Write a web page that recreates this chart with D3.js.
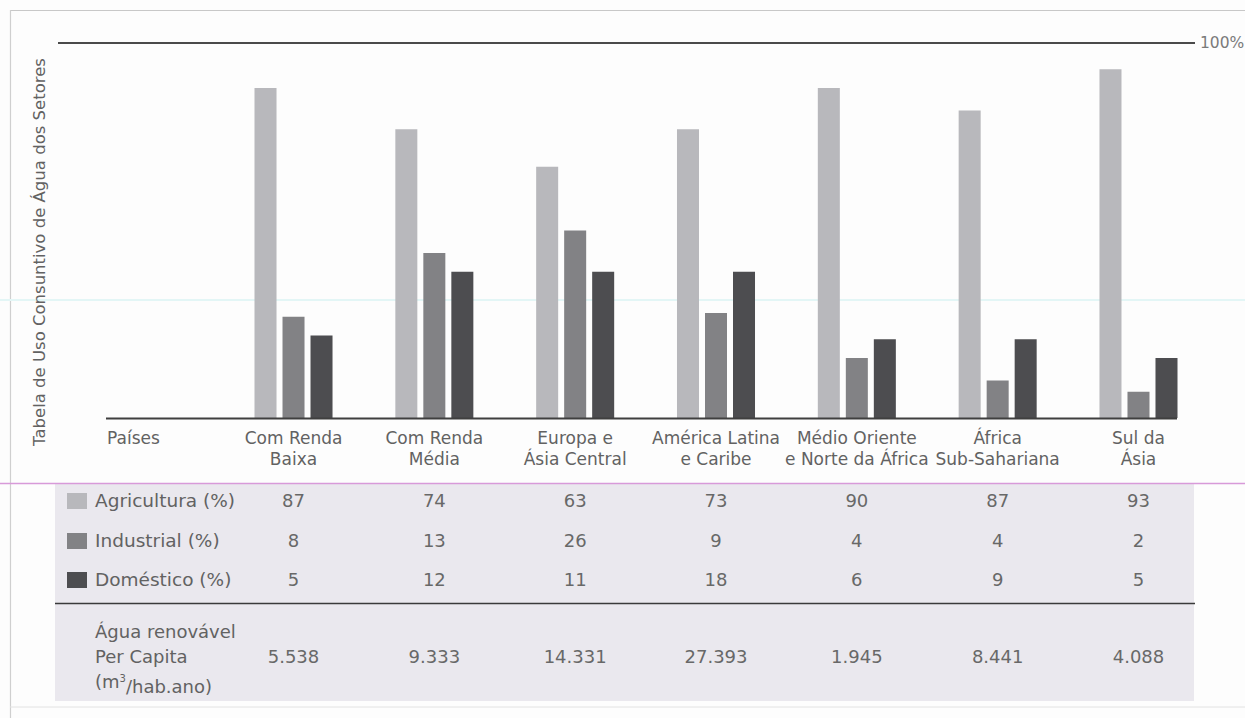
<!DOCTYPE html>
<html>
<head>
<meta charset="utf-8">
<script src="https://cdn.jsdelivr.net/npm/d3@7"></script>
<style>
  body { margin: 0; background: #fff; }
  svg { display: block; font-family: "DejaVu Sans", Arial, sans-serif; }
</style>
</head>
<body>
<div id="vis"><svg></svg></div>
<script>
// categories (two-line labels)
const regions = [
  ["Com Renda", "Baixa"],
  ["Com Renda", "Média"],
  ["Europa e", "Ásia Central"],
  ["América Latina", "e Caribe"],
  ["Médio Oriente", "e Norte da África"],
  ["África", "Sub-Sahariana"],
  ["Sul da", "Ásia"]
];
const sectors = ["Agricultura (%)", "Industrial (%)", "Doméstico (%)"];

// bar heights as drawn in the figure (% of the 100% line)
const barAgri = [88, 77, 67, 77, 88, 82, 93];
const barInd  = [27, 44, 50, 28, 16, 10, 7];
const barDom  = [22, 39, 39, 39, 21, 21, 16];

// table values
const agri = [87, 74, 63, 73, 90, 87, 93];
const ind  = [8, 13, 26, 9, 4, 4, 2];
const dom  = [5, 12, 11, 18, 6, 9, 5];
const waterPerCapita = ["5.538", "9.333", "14.331", "27.393", "1.945", "8.441", "4.088"];

const colors = ["#b8b8bc", "#828285", "#4d4d50"];
const textColor = "#626262";

const W = 1245, H = 718;
const svg = d3.select("#vis").select("svg")
  .attr("width", W)
  .attr("height", H);

// frame + table background
svg.append("rect").attr("x", 0).attr("y", 0).attr("width", W).attr("height", H).attr("fill", "#fdfdfd");
svg.append("line").attr("x1", 10).attr("x2", W).attr("y1", 10.5).attr("y2", 10.5)
  .attr("stroke", "#c8c8c8").attr("stroke-width", 1.2);
svg.append("line").attr("x1", 10.5).attr("x2", 10.5).attr("y1", 10).attr("y2", H)
  .attr("stroke", "#cfcfcf").attr("stroke-width", 1.2);
svg.append("line").attr("x1", 10).attr("x2", W).attr("y1", 707).attr("y2", 707)
  .attr("stroke", "#e2e2e2").attr("stroke-width", 1);
svg.append("rect").attr("x", 55).attr("y", 483).attr("width", 1139).attr("height", 218)
  .attr("fill", "#eae8ee");
// faint scan stripes
svg.append("line").attr("x1", 0).attr("x2", W).attr("y1", 300).attr("y2", 300)
  .attr("stroke", "#e3f6f6").attr("stroke-width", 2);
svg.append("line").attr("x1", 0).attr("x2", W).attr("y1", 483.5).attr("y2", 483.5)
  .attr("stroke", "#d89ad9").attr("stroke-width", 1.6);

// scales
const y = d3.scaleLinear().domain([0, 100]).range([418, 43]);
const x0 = d3.scaleBand()
  .domain(d3.range(regions.length))
  .range([254.5, 1177.5])
  .paddingInner(0.446)
  .paddingOuter(0);
const x1 = d3.scaleBand()
  .domain(d3.range(sectors.length))
  .range([0, x0.bandwidth()])
  .paddingInner(0.214);
const cx = i => x0(i) + x0.bandwidth() / 2;

// 100% line
svg.append("line").attr("x1", 58).attr("x2", 1195).attr("y1", y(100)).attr("y2", y(100))
  .attr("stroke", "#4a4a4a").attr("stroke-width", 2);
svg.append("text").attr("x", 1200).attr("y", y(100)).attr("dy", "0.35em")
  .attr("font-size", 15.5).attr("fill", "#7a7a7a").text("100%");

// bars
const barSeries = [barAgri, barInd, barDom];
const groups = svg.append("g").selectAll("g")
  .data(regions)
  .join("g")
  .attr("transform", (d, i) => `translate(${x0(i)},0)`);
groups.selectAll("rect")
  .data((d, i) => barSeries.map((s, k) => ({ k, v: s[i] })))
  .join("rect")
  .attr("x", d => x1(d.k))
  .attr("width", x1.bandwidth())
  .attr("y", d => y(d.v))
  .attr("height", d => y(0) - y(d.v))
  .attr("fill", d => colors[d.k]);

// baseline
svg.append("line").attr("x1", 106).attr("x2", 1177).attr("y1", 418.5).attr("y2", 418.5)
  .attr("stroke", "#3f3f3f").attr("stroke-width", 2.2);

// category labels
svg.append("text").attr("x", 107).attr("y", 438).attr("dy", "0.35em")
  .attr("font-size", 17).attr("fill", textColor).text("Países");
const catLabels = svg.append("g").selectAll("text")
  .data(regions)
  .join("text")
  .attr("text-anchor", "middle")
  .attr("font-size", 17)
  .attr("fill", textColor);
catLabels.append("tspan").attr("x", (d, i) => cx(i))
  .attr("y", 438).attr("dy", "0.35em").text(d => d[0]);
catLabels.append("tspan").attr("x", (d, i) => cx(i))
  .attr("y", 459).attr("dy", "0.35em").text(d => d[1]);

// y title
svg.append("text")
  .attr("transform", "translate(39,252) rotate(-90)")
  .attr("text-anchor", "middle").attr("dy", "0.35em")
  .attr("font-size", 16.5).attr("fill", textColor)
  .text("Tabela de Uso Consuntivo de Água dos Setores");

// table rows
const rowY = [501, 541, 580];
const tableVals = [agri, ind, dom];
sectors.forEach((s, k) => {
  svg.append("rect").attr("x", 67).attr("y", rowY[k] - 8).attr("width", 20).attr("height", 16)
    .attr("fill", colors[k]);
  svg.append("text").attr("x", 95).attr("y", rowY[k]).attr("dy", "0.35em")
    .attr("font-size", 18.5).attr("fill", textColor).text(s);
  svg.append("g").selectAll("text")
    .data(tableVals[k])
    .join("text")
    .attr("x", (d, i) => cx(i))
    .attr("y", rowY[k]).attr("dy", "0.35em")
    .attr("text-anchor", "middle")
    .attr("font-size", 18).attr("fill", "#686868")
    .text(d => d);
});

svg.append("line").attr("x1", 55).attr("x2", 1195).attr("y1", 603.5).attr("y2", 603.5)
  .attr("stroke", "#3a3a3a").attr("stroke-width", 1.6);

const waterLabel = svg.append("text").attr("font-size", 18).attr("fill", textColor);
waterLabel.append("tspan").attr("x", 95).attr("y", 632).attr("dy", "0.35em").text("Água renovável");
waterLabel.append("tspan").attr("x", 95).attr("y", 657).attr("dy", "0.35em").text("Per Capita");
const unit = waterLabel.append("tspan").attr("x", 95).attr("y", 682).attr("dy", "0.35em");
unit.append("tspan").text("(m");
unit.append("tspan").attr("font-size", 10).attr("dy", "-0.6em").text("3");
unit.append("tspan").attr("dy", "0.6em").text("/hab.ano)");

svg.append("g").selectAll("text")
  .data(waterPerCapita)
  .join("text")
  .attr("x", (d, i) => cx(i))
  .attr("y", 657).attr("dy", "0.35em")
  .attr("text-anchor", "middle")
  .attr("font-size", 18).attr("fill", "#686868")
  .text(d => d);
</script>
</body>
</html>
